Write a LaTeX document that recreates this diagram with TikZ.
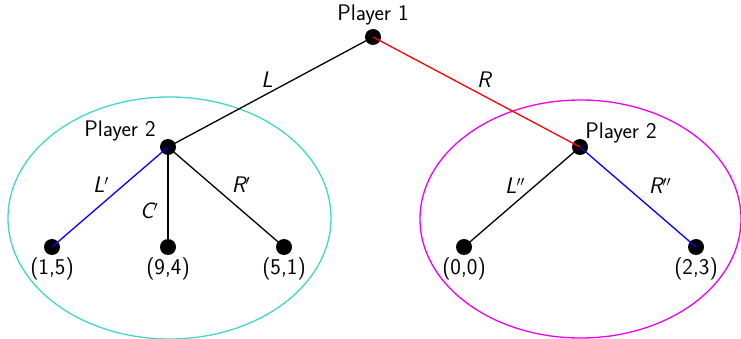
\documentclass[tikz,border=0pt]{standalone}
\usepackage{tikz}
\renewcommand{\familydefault}{\sfdefault}
\definecolor{turq}{RGB}{64,214,200}
\definecolor{mag}{RGB}{240,0,240}
\definecolor{myred}{RGB}{255,0,0}
\definecolor{myblue}{RGB}{0,0,255}
\begin{document}
\begin{tikzpicture}[x=1pt,y=-1pt,
  dot/.style={circle,fill=black,inner sep=0pt,minimum size=16pt},
  edge/.style={line width=1.3pt},
  lbl/.style={font=\fontsize{22.5}{26}\selectfont\sffamily,inner sep=0pt}]
\useasboundingbox (0,0) rectangle (741,339);
\draw[turq,line width=1.3pt] (169.5,218) ellipse [x radius=161.5, y radius=121];
\draw[mag,line width=1.3pt] (580.5,219) ellipse [x radius=160.5, y radius=119];
\node[dot] (r) at (373,37) {};
\node[dot] (a) at (168,147) {};
\node[dot] (b) at (580,147) {};
\node[dot] (a1) at (52,247) {};
\node[dot] (a2) at (168,247) {};
\node[dot] (a3) at (284,247) {};
\node[dot] (b1) at (464,247) {};
\node[dot] (b2) at (696,247) {};
\draw[edge] (r.center) -- (a.center);
\draw[edge,myred] (r.center) -- (b.center);
\draw[edge,myblue] (a.center) -- (a1.center);
\draw[edge] (a.center) -- (a2.center);
\draw[edge] (a.center) -- (a3.center);
\draw[edge] (b.center) -- (b1.center);
\draw[edge,myblue] (b.center) -- (b2.center);
\node[lbl] (t0) at (373,15) {Player 1};
\node[lbl] (t1) at (120,131) {Player 2};
\node[lbl] (t2) at (621,133) {Player 2};
\node[lbl] (e1) at (267,80) {\itshape L};
\node[lbl] (e2) at (484,80) {\itshape R};
\node[lbl] (e3) at (101,185) {\itshape L$'$};
\node[lbl] (e4) at (149,211) {\itshape C$'$};
\node[lbl] (e5) at (241,185) {\itshape R$'$};
\node[lbl] (e6) at (515,186) {\itshape L$''$};
\node[lbl] (e7) at (660,186) {\itshape R$''$};
\node[lbl] (v1) at (52,269) {(1,5)};
\node[lbl] (v2) at (168,269) {(9,4)};
\node[lbl] (v3) at (284,269) {(5,1)};
\node[lbl] (v4) at (464,269) {(0,0)};
\node[lbl] (v5) at (696,269) {(2,3)};
\end{tikzpicture}
\end{document}
